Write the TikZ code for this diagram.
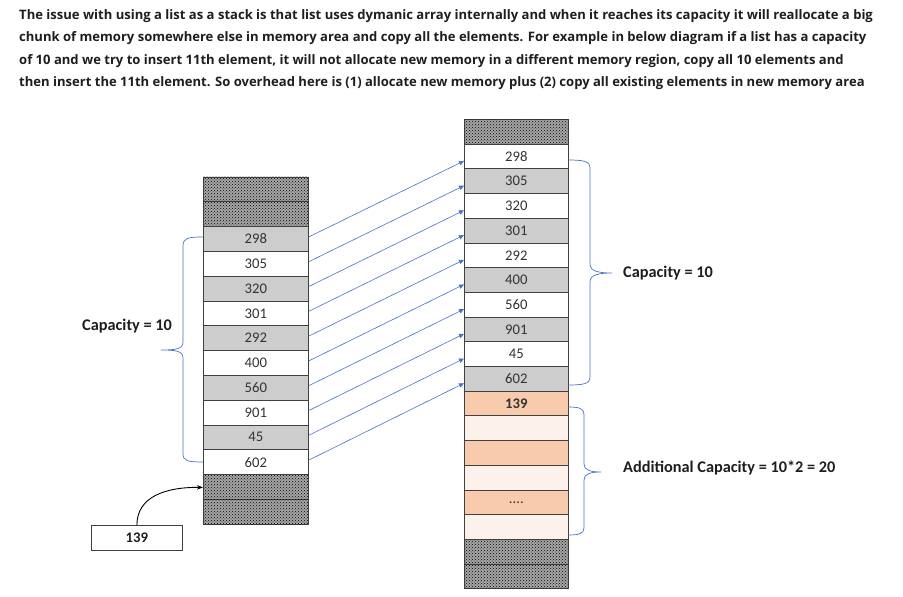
\documentclass[tikz,border=0pt]{standalone}
\usepackage{fontspec}
\setmainfont{Carlito}
\newfontfamily\parafont{Open Sans}
\usetikzlibrary{arrows.meta,patterns}
\definecolor{txt}{HTML}{1E1E1E}
\definecolor{cellgray}{HTML}{CDCDCD}
\definecolor{lineblue}{HTML}{4472C4}
\definecolor{orangeA}{HTML}{F8CBAD}
\definecolor{orangeB}{HTML}{FCF2EB}
\definecolor{edge}{HTML}{404040}
\tikzset{
  cellL/.style={draw=edge, line width=0.8pt, minimum width=105pt, minimum height=24.8pt, inner sep=0pt, anchor=north west, font=\fontsize{14.7}{15}\selectfont, text=black!80},
  cellR/.style={cellL, minimum width=104pt, minimum height=24.7pt},
  hatch/.style={fill=gray!70, postaction={pattern=crosshatch dots, pattern color=black}},
  copyarrow/.style={draw=lineblue, line width=0.6pt, -{Triangle[length=5pt,width=4.5pt]}},
  bracestyle/.style={draw=lineblue, line width=0.7pt},
  para/.style={anchor=west, inner sep=0pt, text=txt, font=\parafont\bfseries\fontsize{13.05}{15}\selectfont},
  lbl/.style={inner sep=0pt, text=txt, font=\bfseries\fontsize{16.3}{17}\selectfont}
}
\begin{document}
\begin{tikzpicture}[x=1pt,y=-1pt]
\useasboundingbox (0,0) rectangle (903,597);
% paragraph
\node[para] (p1) at (19,16) {The issue with using a list as a stack is that list uses dymanic array internally and when it reaches its capacity it will reallocate a big};
\node[para] (p2) at (19,38.5) {chunk of memory somewhere else in memory area and copy all the elements. For example in below diagram if a list has a capacity};
\node[para] (p3) at (19,61) {of 10 and we try to insert 11th element, it will not allocate new memory in a different memory region, copy all 10 elements and};
\node[para] (p4) at (19,83) {then insert the 11th element. So overhead here is (1) allocate new memory plus (2) copy all existing elements in new memory area};
% left stack
\foreach \i in {0,1,12,13} {
  \node[cellL, hatch] (L\i) at (203,176.5+\i*24.8) {};
}
\foreach \v [count=\k from 2] in {298,305,320,301,292,400,560,901,45,602} {
  \pgfmathtruncatemacro{\odd}{mod(\k,2)}
  \ifnum\odd=0
    \node[cellL, fill=cellgray] (L\k) at (203,176.5+\k*24.8) {\v};
  \else
    \node[cellL, fill=white] (L\k) at (203,176.5+\k*24.8) {\v};
  \fi
}
% right stack
\foreach \i in {0,17,18} {
  \node[cellR, hatch] (R\i) at (464,119+\i*24.7) {};
}
\foreach \v [count=\k from 1] in {298,305,320,301,292,400,560,901,45,602} {
  \pgfmathtruncatemacro{\odd}{mod(\k,2)}
  \ifnum\odd=1
    \node[cellR, fill=white] (R\k) at (464,119+\k*24.7) {\v};
  \else
    \node[cellR, fill=cellgray] (R\k) at (464,119+\k*24.7) {\v};
  \fi
}
\node[cellR, fill=orangeA, font=\bfseries\fontsize{14.7}{15}\selectfont] (R11) at (464,119+11*24.7) {139};
\node[cellR, fill=orangeB] (R12) at (464,119+12*24.7) {};
\node[cellR, fill=orangeA] (R13) at (464,119+13*24.7) {};
\node[cellR, fill=orangeB] (R14) at (464,119+14*24.7) {};
\node[cellR, fill=orangeA] (R15) at (464,119+15*24.7) {....};
\node[cellR, fill=orangeB] (R16) at (464,119+16*24.7) {};
% copy arrows
\foreach \i [evaluate=\i as \j using int(\i-1)] in {2,...,11} {
  \draw[copyarrow] ([yshift=2pt]L\i.east) -- ([yshift=-4.5pt]R\j.west);
}
% braces
\draw[bracestyle] (203,237) .. controls (188,237) and (183,238) .. (183,246) -- (183,342)
  .. controls (183,349) and (176,350) .. (161,350)
  .. controls (176,350) and (183,351) .. (183,358) -- (183,454)
  .. controls (183,461) and (188,462) .. (203,462);
\draw[bracestyle] (568,160) .. controls (583,160) and (590,161) .. (590,168) -- (590,264)
  .. controls (590,271) and (598,273) .. (612,273)
  .. controls (598,273) and (590,275) .. (590,282) -- (590,377)
  .. controls (590,384) and (583,385) .. (568,385);
\draw[bracestyle] (568,407) .. controls (578,407) and (584,408) .. (584,414) -- (584,464)
  .. controls (584,470) and (590,472) .. (601,472)
  .. controls (590,472) and (584,474) .. (584,480) -- (584,528)
  .. controls (584,534) and (578,535) .. (568,535);
% labels
\node[lbl, anchor=west] (capL) at (82,326) {Capacity = 10};
\node[lbl, anchor=west] (capR) at (623,273) {Capacity = 10};
\node[lbl, anchor=west] (capA) at (623,468) {Additional Capacity = 10*2 = 20};
% new element
\node[draw=edge, line width=0.8pt, minimum width=91pt, minimum height=25pt, inner sep=0pt, anchor=north west, text=txt, font=\bfseries\fontsize{14.7}{15}\selectfont] (new) at (91,525) {139};
\draw[line width=0.9pt, -{Stealth[length=6pt,width=4.5pt]}] (new.north) .. controls (137,497) and (165,487) .. ([yshift=-0.5pt]L12.west);
\end{tikzpicture}
\end{document}
